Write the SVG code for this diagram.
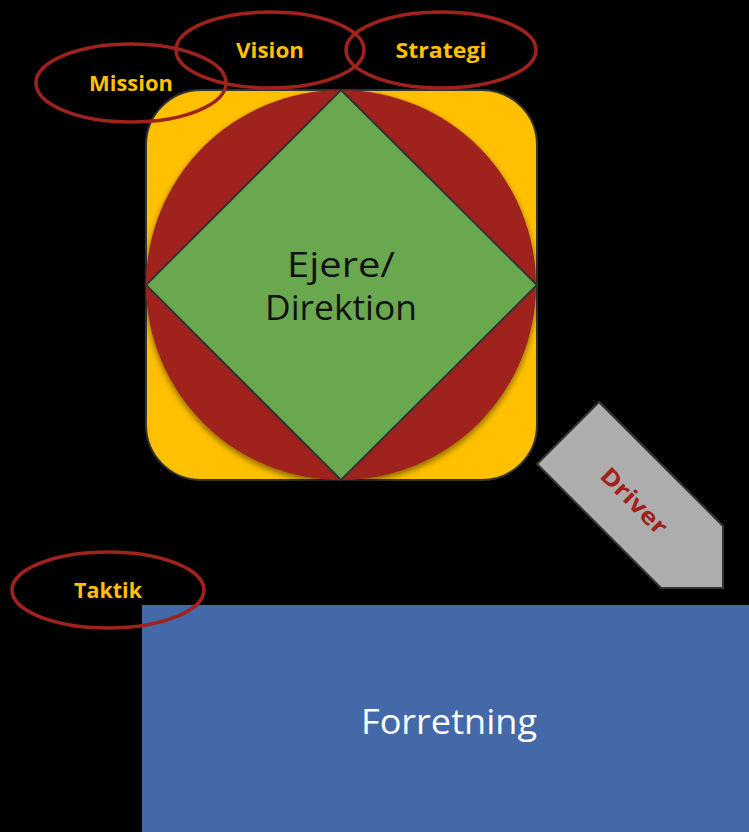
<svg xmlns="http://www.w3.org/2000/svg" width="749" height="832" viewBox="0 0 749 832">
<style>
.oval{fill:none;stroke:#A0221D;stroke-width:3.5}
.lbl{font-family:"Open Sans",Lato,"Liberation Sans",sans-serif;font-weight:bold;font-size:21px;fill:#FFC000;text-anchor:middle}
.big{font-family:"Open Sans",Lato,"Liberation Sans",sans-serif;font-size:34px;text-anchor:middle}
</style>
<defs>
<filter id="sh" x="-10%" y="-10%" width="120%" height="120%">
<feGaussianBlur in="SourceAlpha" stdDeviation="3"/>
<feOffset dx="0" dy="3"/>
<feComponentTransfer><feFuncA type="linear" slope="0.5"/></feComponentTransfer>
<feMerge><feMergeNode/><feMergeNode in="SourceGraphic"/></feMerge>
</filter>
</defs>
<rect width="749" height="832" fill="#000"/>
<g id="forretning">
<rect x="142" y="605" width="607" height="227" fill="#4469A9"/>
<text class="big" x="449" y="734" fill="#fff" textLength="176" lengthAdjust="spacingAndGlyphs">Forretning</text>
</g>
<g id="ejere">
<rect x="146" y="90" width="391" height="390" rx="55" fill="#FFC000" stroke="#333" stroke-width="2"/>
<circle cx="341" cy="285" r="195" fill="#A0221D" filter="url(#sh)"/>
<polygon points="341,90 537,285 341,480 146,285" fill="#6AA84F" stroke="#333" stroke-width="2"/>
<text class="big" x="341" y="277" fill="#111" textLength="108" lengthAdjust="spacingAndGlyphs">Ejere/</text>
<text class="big" x="341" y="320" fill="#111" textLength="152" lengthAdjust="spacingAndGlyphs">Direktion</text>
</g>
<g id="driver">
<polygon points="599,402 537,464 661,588 723,588 723,526" fill="#ADADAD" stroke="#333" stroke-width="2"/>
<text transform="translate(634,501) rotate(45)" x="0" y="8" font-family="'Open Sans',Lato,'Liberation Sans',sans-serif" font-weight="bold" font-size="23" fill="#A0221D" text-anchor="middle" textLength="84" lengthAdjust="spacingAndGlyphs">Driver</text>
</g>
<g id="mission">
<ellipse class="oval" cx="131" cy="83" rx="95" ry="39"/>
<text class="lbl" x="131" y="91" textLength="84" lengthAdjust="spacingAndGlyphs">Mission</text>
</g>
<g id="vision">
<ellipse class="oval" cx="270" cy="50" rx="94" ry="38"/>
<text class="lbl" x="270" y="58" textLength="68" lengthAdjust="spacingAndGlyphs">Vision</text>
</g>
<g id="strategi">
<ellipse class="oval" cx="441" cy="50" rx="95" ry="38"/>
<text class="lbl" x="441" y="58" textLength="91" lengthAdjust="spacingAndGlyphs">Strategi</text>
</g>
<g id="taktik">
<ellipse class="oval" cx="108" cy="590" rx="96" ry="38"/>
<text class="lbl" x="108" y="598" textLength="68" lengthAdjust="spacingAndGlyphs">Taktik</text>
</g>
<g id="connectors"></g>
</svg>
